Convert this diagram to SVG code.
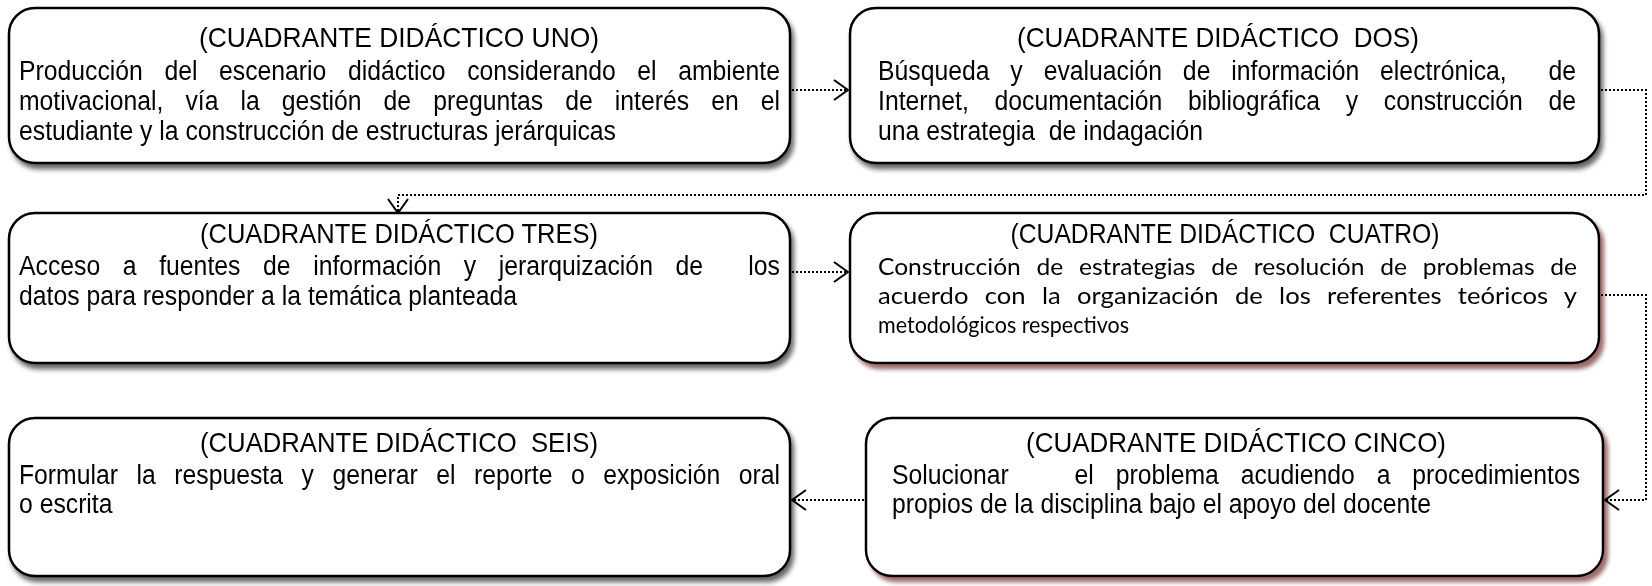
<svg xmlns="http://www.w3.org/2000/svg" width="1652" height="586" viewBox="0 0 1652 586">
<defs>
<filter id="sg" x="-5%" y="-5%" width="115%" height="125%">
<feGaussianBlur in="SourceAlpha" stdDeviation="2.5"/>
<feOffset dx="3" dy="5" result="b"/>
<feComponentTransfer><feFuncA type="linear" slope="0.6"/></feComponentTransfer>
<feMerge><feMergeNode/><feMergeNode in="SourceGraphic"/></feMerge>
</filter>
<filter id="sr" x="-5%" y="-5%" width="115%" height="125%">
<feFlood flood-color="#7a3a3a"/>
<feComposite in2="SourceAlpha" operator="in"/>
<feGaussianBlur stdDeviation="2"/>
<feOffset dx="4" dy="5" result="b"/>
<feComponentTransfer><feFuncA type="linear" slope="0.75"/></feComponentTransfer>
<feMerge><feMergeNode/><feMergeNode in="SourceGraphic"/></feMerge>
</filter>
<marker id="ar" viewBox="0 0 16 24" refX="15" refY="12" markerWidth="16" markerHeight="24" markerUnits="userSpaceOnUse" orient="auto">
<path d="M1 2 L15 12 L1 22" fill="none" stroke="#000" stroke-width="2"/>
</marker>
</defs>
<style>
.box{fill:#fff;stroke:#000;stroke-width:2.5}
.h{font-family:"Liberation Sans",Arial,sans-serif;font-size:28px;fill:#000}
.t{font-family:"Liberation Sans",Arial,sans-serif;font-size:27px;fill:#000}
.c{font-family:Lato,"Open Sans",sans-serif;font-size:23.5px;fill:#000}
.con{fill:none;stroke:#000;stroke-width:2;stroke-dasharray:2 2}
</style>
<g id="n1" filter="url(#sg)">
<rect class="box" x="9" y="8" width="781" height="155" rx="26"/>
<text class="h" x="399" y="47" text-anchor="middle" textLength="400" lengthAdjust="spacingAndGlyphs">(CUADRANTE DIDÁCTICO UNO)</text>
<text class="t" x="19" y="80" word-spacing="16" textLength="761" lengthAdjust="spacingAndGlyphs">Producción del escenario didáctico considerando el ambiente</text>
<text class="t" x="19" y="110" word-spacing="16.6" textLength="761" lengthAdjust="spacingAndGlyphs">motivacional, vía la gestión de preguntas de interés en el</text>
<text class="t" x="19" y="140" textLength="597" lengthAdjust="spacingAndGlyphs">estudiante y la construcción de estructuras jerárquicas</text>
</g>
<g id="n2" filter="url(#sg)">
<rect class="box" x="850" y="8" width="749" height="155" rx="26"/>
<text class="h" x="1218" y="47" text-anchor="middle" textLength="402" lengthAdjust="spacingAndGlyphs" xml:space="preserve">(CUADRANTE DIDÁCTICO  DOS)</text>
<text class="t" x="878" y="80" word-spacing="15.3" textLength="698" lengthAdjust="spacingAndGlyphs" xml:space="preserve">Búsqueda y evaluación de información electrónica,  de</text>
<text class="t" x="878" y="110" word-spacing="20.5" textLength="698" lengthAdjust="spacingAndGlyphs">Internet, documentación bibliográfica y construcción de</text>
<text class="t" x="878" y="140" textLength="325" lengthAdjust="spacingAndGlyphs" xml:space="preserve">una estrategia  de indagación</text>
</g>
<g id="n3" filter="url(#sg)">
<rect class="box" x="9" y="213" width="781" height="150" rx="26"/>
<text class="h" x="399" y="243" text-anchor="middle" textLength="398" lengthAdjust="spacingAndGlyphs">(CUADRANTE DIDÁCTICO TRES)</text>
<text class="t" x="19" y="275" word-spacing="17.2" textLength="761" lengthAdjust="spacingAndGlyphs" xml:space="preserve">Acceso a fuentes de información y jerarquización de  los</text>
<text class="t" x="19" y="305" textLength="498" lengthAdjust="spacingAndGlyphs">datos para responder a la temática planteada</text>
</g>
<g id="n4" filter="url(#sr)">
<rect class="box" x="850" y="213" width="749" height="150" rx="26"/>
<text class="h" x="1225" y="243" text-anchor="middle" textLength="429" lengthAdjust="spacingAndGlyphs" xml:space="preserve">(CUADRANTE DIDÁCTICO  CUATRO)</text>
<text class="c" x="878" y="275" word-spacing="9" textLength="699" lengthAdjust="spacingAndGlyphs">Construcción de estrategias de resolución de problemas de</text>
<text class="c" x="878" y="304" word-spacing="9" textLength="699" lengthAdjust="spacingAndGlyphs">acuerdo con la organización de los referentes teóricos y</text>
<text class="c" x="878" y="333" textLength="251" lengthAdjust="spacingAndGlyphs">metodológicos respectivos</text>
</g>
<g id="n5" filter="url(#sr)">
<rect class="box" x="866" y="418" width="737" height="158" rx="26"/>
<text class="h" x="1236" y="452" text-anchor="middle" textLength="420" lengthAdjust="spacingAndGlyphs">(CUADRANTE DIDÁCTICO CINCO)</text>
<text class="t" x="892" y="484" word-spacing="16.4" textLength="688" lengthAdjust="spacingAndGlyphs" xml:space="preserve">Solucionar   el problema acudiendo a procedimientos</text>
<text class="t" x="892" y="513" textLength="539" lengthAdjust="spacingAndGlyphs">propios de la disciplina bajo el apoyo del docente</text>
</g>
<g id="n6" filter="url(#sg)">
<rect class="box" x="9" y="418" width="781" height="158" rx="26"/>
<text class="h" x="399" y="452" text-anchor="middle" textLength="398" lengthAdjust="spacingAndGlyphs" xml:space="preserve">(CUADRANTE DIDÁCTICO  SEIS)</text>
<text class="t" x="19" y="484" word-spacing="12.8" textLength="761" lengthAdjust="spacingAndGlyphs">Formular la respuesta y generar el reporte o exposición oral</text>
<text class="t" x="19" y="513" textLength="93.5" lengthAdjust="spacingAndGlyphs">o escrita</text>
</g>
<g id="connectors">
<path class="con" d="M792 90 H848" marker-end="url(#ar)"/>
<path class="con" d="M1601 90 H1646 V195 H398 V213" marker-end="url(#ar)"/>
<path class="con" d="M792 272 H848" marker-end="url(#ar)"/>
<path class="con" d="M1601 295 H1646 V500 H1605" marker-end="url(#ar)"/>
<path class="con" d="M864 500 H792" marker-end="url(#ar)"/>
</g>
</svg>
